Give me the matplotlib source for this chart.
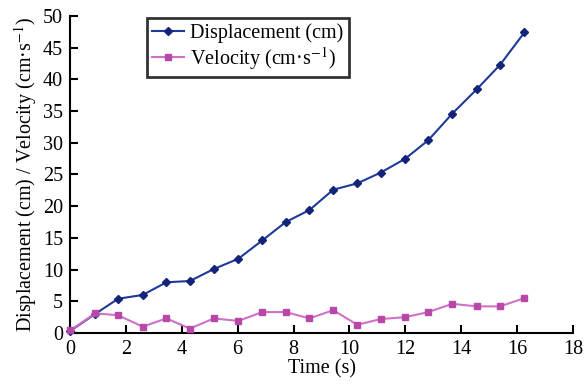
import matplotlib
matplotlib.use("Agg")
import matplotlib.pyplot as plt

time_s = [0, 0.9, 1.72, 2.6, 3.45, 4.29, 5.15, 6.02, 6.88, 7.72, 8.57, 9.42, 10.28, 11.12, 12.0, 12.82, 13.68, 14.57, 15.39, 16.26]
displacement = [0.3, 3.0, 5.4, 6.0, 8.0, 8.2, 10.1, 11.7, 14.6, 17.5, 19.4, 22.6, 23.6, 25.3, 27.5, 30.4, 34.6, 38.5, 42.3, 47.4]
velocity = [0.4, 3.1, 2.8, 1.0, 2.3, 0.7, 2.3, 1.9, 3.3, 3.3, 2.3, 3.6, 1.3, 2.2, 2.5, 3.3, 4.6, 4.2, 4.2, 5.5]

x_ticks = list(range(0, 19, 2))
y_ticks = list(range(0, 51, 5))

plt.rcParams['font.family'] = ['Liberation Serif', 'DejaVu Serif']
plt.rcParams['mathtext.fontset'] = 'stix'

FS = 14.5

fig = plt.figure(figsize=(5.87, 3.87), dpi=100)
ax = fig.add_axes([70/587, 1 - 333/387, (573-70)/587, (333-16)/387])

ax.plot(time_s, displacement, color='#1f3a9a', lw=1.5, marker='D', ms=4.5,
        mfc='#14237a', mec='#14237a', label='Displacement (cm)', clip_on=False, zorder=3)
ax.plot(time_s, velocity, color='#d070c8', lw=1.5, marker='s', ms=5,
        mfc='#b848a8', mec='#b848a8', label='Velocity (cm·s$^{-1}$)', clip_on=False, zorder=3)

ax.set_xlim(0, 18)
ax.set_ylim(0, 50)
ax.set_xticks(x_ticks)
ax.set_yticks(y_ticks)
ax.tick_params(direction='in', length=6, width=1.5, labelsize=FS, pad=5, colors='black')
for s in ['top', 'right']:
    ax.spines[s].set_visible(False)
for s in ['left', 'bottom']:
    ax.spines[s].set_linewidth(1.5)
    ax.spines[s].set_color('black')

ax.set_xlabel('Time (s)', fontsize=FS, labelpad=0)
ax.set_ylabel('Displacement (cm) / Velocity (cm·s$^{-1}$)', fontsize=FS, labelpad=3)

leg = ax.legend(loc='upper left', bbox_to_anchor=((147-70)/503, 1 - 2/317), fontsize=FS,
                frameon=True, fancybox=False, edgecolor='black', handlelength=1.6,
                borderpad=0.25, labelspacing=0.1, handletextpad=0.3, borderaxespad=0)
leg.get_frame().set_linewidth(2)

fig.savefig('out.png', dpi=100)
